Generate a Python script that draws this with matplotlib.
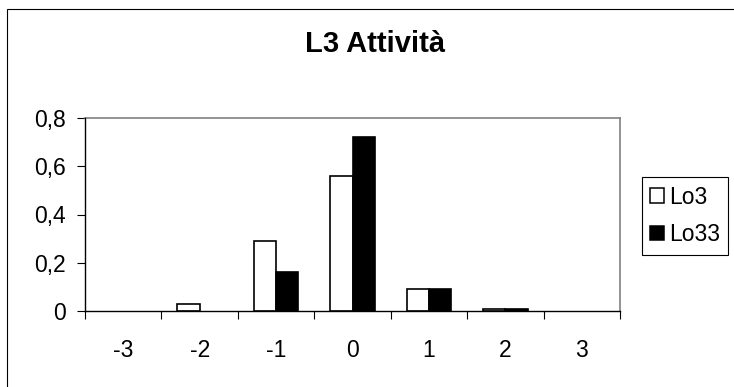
import numpy as np
import matplotlib
matplotlib.use("Agg")
import matplotlib.pyplot as plt
from matplotlib.patches import Rectangle, Patch

plt.rcParams['font.family'] = ['Liberation Sans', 'DejaVu Sans']

# frequenze per classe di attività
categorie = ["-3", "-2", "-1", "0", "1", "2", "3"]
lo3 = [0.0, 0.03, 0.29, 0.56, 0.09, 0.01, 0.0]
lo33 = [0.0, 0.0, 0.16, 0.72, 0.09, 0.01, 0.0]
y_ticks = [0, 0.2, 0.4, 0.6, 0.8]
y_labels = ["0", "0,2", "0,4", "0,6", "0,8"]

W, H = 734, 387
fs = 16.5
fig = plt.figure(figsize=(W / 100, H / 100), dpi=100)
ax = fig.add_axes([85 / W, 1 - 311 / H, (620 - 85) / W, (311 - 118) / H])

x = np.arange(len(categorie))
bw = 0.29
ax.bar(x - bw, lo3, width=bw, align='edge', color='white', edgecolor='black',
       linewidth=[1.2 if v > 0 else 0 for v in lo3], zorder=3)
ax.bar(x, lo33, width=bw, align='edge', color='black', edgecolor='black',
       linewidth=[1.2 if v > 0 else 0 for v in lo33], zorder=3)

ax.set_xlim(-0.5, len(categorie) - 0.5)
ax.set_ylim(0, 0.8)

# tacche tra le categorie, etichette al centro
ax.set_xticks(np.arange(len(categorie) + 1) - 0.5)
ax.set_xticklabels([])
ax.set_xticks(x, minor=True)
ax.set_xticklabels(categorie, minor=True)
ax.tick_params(axis='x', which='major', direction='out', length=5.5, width=0.8, color='black')
ax.tick_params(axis='x', which='minor', length=0, pad=20, labelsize=fs)

ax.set_yticks(y_ticks)
ax.set_yticklabels(y_labels)
ax.tick_params(axis='y', direction='out', length=6, width=0.8, pad=8, labelsize=fs)

for s in ['left', 'bottom']:
    ax.spines[s].set_color('black')
    ax.spines[s].set_linewidth(1.0)
for s in ['top', 'right']:
    ax.spines[s].set_color('#808080')
    ax.spines[s].set_linewidth(1.2)
ax.spines['left'].set_zorder(4)
ax.spines['bottom'].set_zorder(4)

fig.text(375 / W, 1 - 52.5 / H, "L3 Attività", ha='center', va='baseline',
         fontsize=21, fontweight='bold')

handles = [Patch(facecolor='white', edgecolor='black', linewidth=1.1, label='Lo3'),
           Patch(facecolor='black', edgecolor='black', linewidth=1.1, label='Lo33')]
leg = fig.legend(handles=handles, loc='upper left',
                 bbox_to_anchor=(641.7 / W, 1 - 177 / H),
                 bbox_transform=fig.transFigure, borderaxespad=0, fontsize=fs,
                 frameon=True, fancybox=False, edgecolor='black', framealpha=1,
                 handlelength=0.6, handleheight=0.6, handletextpad=0.2,
                 borderpad=0.38, labelspacing=0.62)
leg.get_frame().set_linewidth(0.8)

# cornice esterna del grafico
fig.patches.append(Rectangle((7.3 / W, -0.1), 1.2, 1 - 9.3 / H + 0.1,
                             transform=fig.transFigure, fill=False,
                             edgecolor='black', linewidth=0.8))

fig.savefig("out.png", dpi=100)
